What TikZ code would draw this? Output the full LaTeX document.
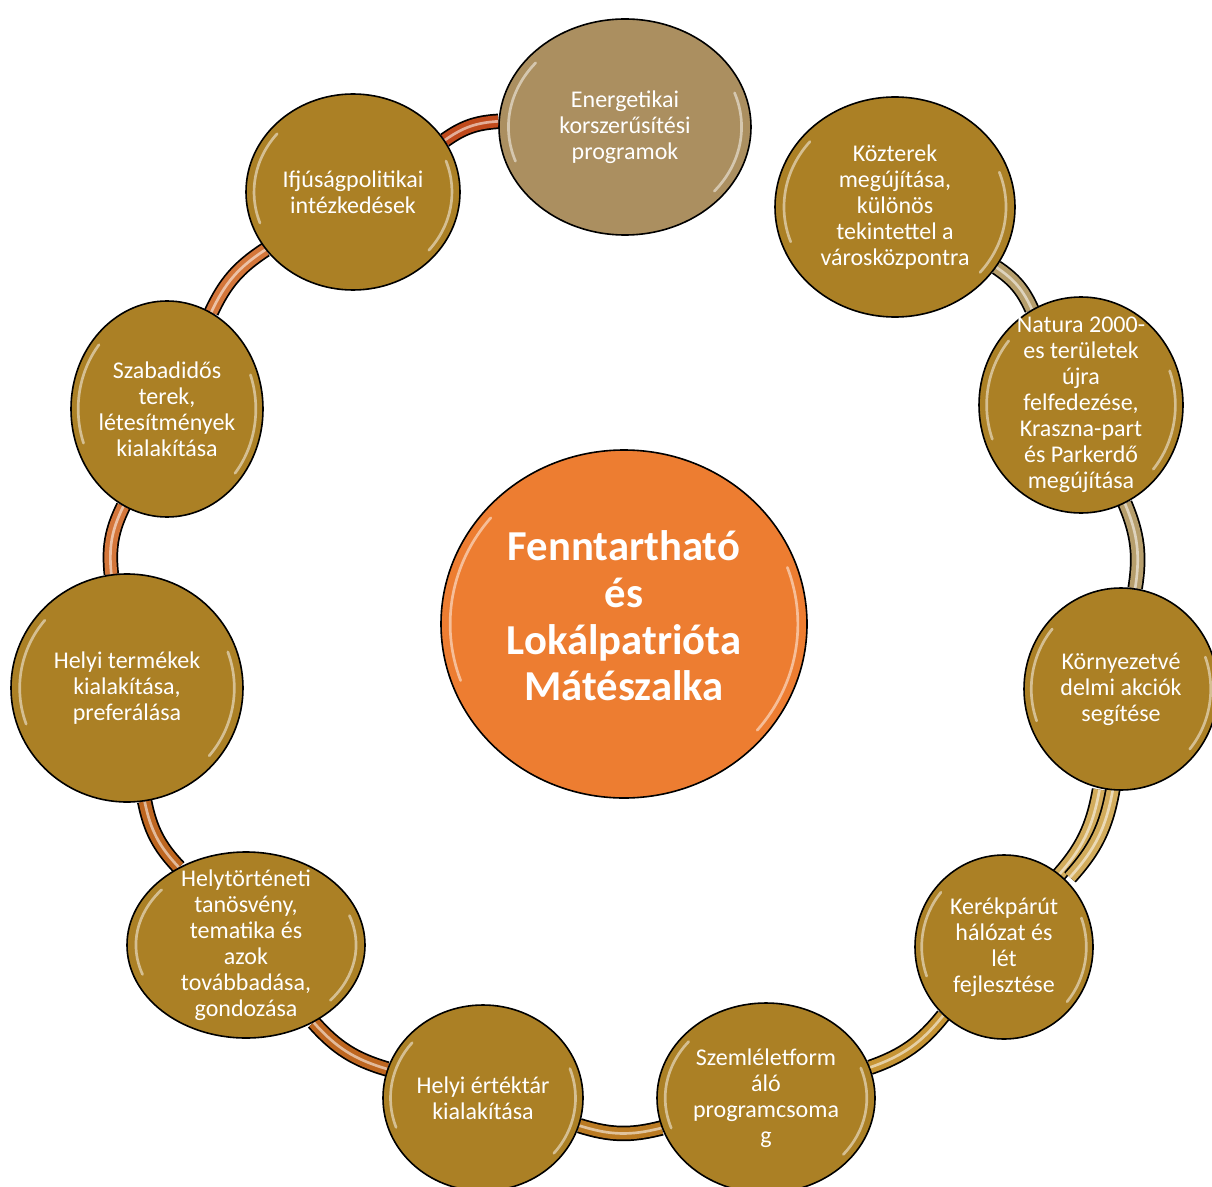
\documentclass[tikz,border=0pt]{standalone}
\usepackage{fontspec}
\setmainfont{Carlito}
\usetikzlibrary{shapes.geometric,backgrounds,calc}

\definecolor{arany}{RGB}{171,128,37}
\definecolor{homok}{RGB}{171,143,96}
\definecolor{narancs}{RGB}{237,125,49}
\definecolor{rozsda}{RGB}{192,74,28}
\definecolor{rez}{RGB}{212,118,58}
\definecolor{barna}{RGB}{190,102,32}
\definecolor{okker}{RGB}{186,122,34}
\definecolor{sarga}{RGB}{198,148,52}
\definecolor{vilsarga}{RGB}{210,172,92}
\definecolor{drapp}{RGB}{182,158,108}

\begin{document}
\begin{tikzpicture}[x=0.75pt,y=-0.75pt,
    fenyes/.style={path picture={
        \draw[white, line width=2pt, opacity=.5, line cap=round]
            let \p1=($(path picture bounding box.north east)-(path picture bounding box.center)$) in
            (path picture bounding box.center) ++(140:{#1*\x1} and {#1*\y1})
                arc[start angle=140, end angle=200, x radius=#1*\x1, y radius=#1*\y1]
            (path picture bounding box.center) ++(-40:{#1*\x1} and {#1*\y1})
                arc[start angle=-40, end angle=20, x radius=#1*\x1, y radius=#1*\y1];}},
    gomb/.style={ellipse, draw=black, line width=1.2pt, inner sep=0pt, fill=#1, fenyes=0.925},
    gomb/.default=arany,
    felirat/.style={text=white, align=center, font=\fontsize{18}{19.5}\selectfont},
    sav/.style={draw=#1, line width=9pt, preaction={draw=black, line width=11.6pt},
        postaction={draw=#1!45!white, line width=2pt}}]
    \useasboundingbox (0,0) rectangle (1212,1187);

    % kozepso kor
    \node[gomb=narancs, fenyes=0.95, minimum width=274.5pt, minimum height=261pt,
        label={[felirat, font=\fontsize{32}{35}\selectfont\bfseries, yshift=6pt]center:{Fenntartható\\és\\Lokálpatrióta\\Mátészalka}}] (kozep) at (624,624) {};

    % gyuru menten, oramutato jarasa szerint
    \node[gomb=homok, minimum width=189pt, minimum height=162pt,
        label={[felirat]center:{Energetikai\\korszerűsítési\\programok}}] (energ) at (625,127) {};
    \node[gomb, minimum width=180pt, minimum height=165pt,
        label={[felirat]center:{Közterek\\megújítása,\\különös\\tekintettel a\\városközpontra}}] (kozter) at (895,207) {};
    \node[gomb, minimum width=153pt, minimum height=162pt,
        label={[felirat]center:{Natura 2000-\\es területek\\újra\\felfedezése,\\Kraszna-part\\és Parkerdő\\megújítása}}] (natura) at (1081,405) {};
    \node[gomb, minimum width=145.5pt, minimum height=151.5pt,
        label={[felirat]center:{Környezetvé\\delmi akciók\\segítése}}] (kornyez) at (1121,689) {};
    \node[gomb, minimum width=133.5pt, minimum height=138pt,
        label={[felirat]center:{Kerékpárút\\hálózat és\\lét\\fejlesztése}}] (kerekp) at (1004,947) {};
    \node[gomb, minimum width=163.5pt, minimum height=142.5pt,
        label={[felirat]center:{Szemléletform\\áló\\programcsoma\\g}}] (szemlel) at (766,1098) {};
    \node[gomb, minimum width=150pt, minimum height=139.5pt,
        label={[felirat]center:{Helyi értéktár\\kialakítása}}] (ertek) at (483,1098) {};
    \node[gomb, minimum width=178.5pt, minimum height=139.5pt,
        label={[felirat]center:{Helytörténeti\\tanösvény,\\tematika és\\azok\\továbbadása,\\gondozása}}] (helytort) at (246,945) {};
    \node[gomb, minimum width=174pt, minimum height=171pt,
        label={[felirat]center:{Helyi termékek\\kialakítása,\\preferálása}}] (termek) at (127,688) {};
    \node[gomb, minimum width=144pt, minimum height=162pt,
        label={[felirat]center:{Szabadidős\\terek,\\létesítmények\\kialakítása}}] (szabad) at (167,409) {};
    \node[gomb, minimum width=160.5pt, minimum height=147pt,
        label={[felirat]center:{Ifjúságpolitikai\\intézkedések}}] (ifjusag) at (353,192) {};

    % osszekoto savok
    \begin{scope}[on background layer]
        \draw[sav=drapp] (kozter) to[bend left=16] (natura);
        \draw[sav=drapp] (natura) to[bend left=16] (kornyez);
        \begin{scope}[transform canvas={xshift=-5pt}]
            \draw[sav=vilsarga] (kornyez) to[bend left=16] (kerekp);
        \end{scope}
        \begin{scope}[transform canvas={xshift=5pt}]
            \draw[sav=vilsarga] (kornyez) to[bend left=16] (kerekp);
        \end{scope}
        \draw[sav=sarga] (kerekp) to[bend left=16] (szemlel);
        \draw[sav=okker] (szemlel) to[bend left=16] (ertek);
        \draw[sav=barna] (ertek) to[bend left=16] (helytort);
        \draw[sav=barna] (helytort) to[bend left=16] (termek);
        \draw[sav=rez] (termek) to[bend left=16] (szabad);
        \draw[sav=rez] (szabad) to[bend left=16] (ifjusag);
        \draw[sav=rozsda] (ifjusag) to[bend left=16] (energ);
    \end{scope}
\end{tikzpicture}
\end{document}
